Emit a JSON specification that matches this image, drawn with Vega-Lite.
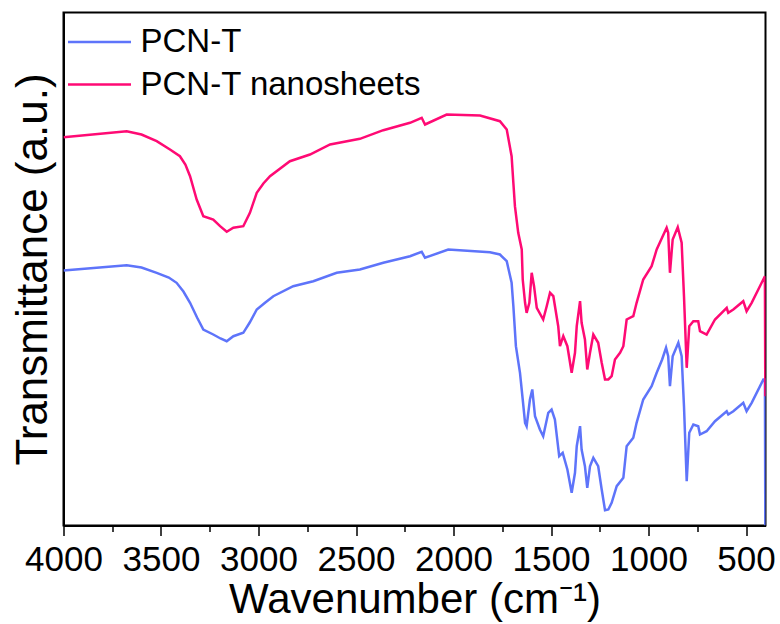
{
  "$schema": "https://vega.github.io/schema/vega-lite/v6.json",
  "width": 702,
  "height": 513,
  "autosize": {"type": "none"},
  "padding": {"left": 63.5, "top": 12.5, "right": 14.5, "bottom": 98.5},
  "config": {
    "font": "Liberation Sans",
    "view": {"stroke": "black", "strokeWidth": 2}
  },
  "data": {
    "values": [
      {"s": "PCN-T", "wn": 4000, "t": 255},
      {"s": "PCN-T", "wn": 3676, "t": 260.3},
      {"s": "PCN-T", "wn": 3600, "t": 258},
      {"s": "PCN-T", "wn": 3522, "t": 252.7},
      {"s": "PCN-T", "wn": 3460, "t": 248},
      {"s": "PCN-T", "wn": 3420, "t": 242.7},
      {"s": "PCN-T", "wn": 3385, "t": 234},
      {"s": "PCN-T", "wn": 3351, "t": 222.7},
      {"s": "PCN-T", "wn": 3315, "t": 208},
      {"s": "PCN-T", "wn": 3283, "t": 196},
      {"s": "PCN-T", "wn": 3232, "t": 191},
      {"s": "PCN-T", "wn": 3195, "t": 187},
      {"s": "PCN-T", "wn": 3163, "t": 184.3},
      {"s": "PCN-T", "wn": 3129, "t": 189.3},
      {"s": "PCN-T", "wn": 3078, "t": 192.7},
      {"s": "PCN-T", "wn": 3045, "t": 203},
      {"s": "PCN-T", "wn": 3009, "t": 216},
      {"s": "PCN-T", "wn": 2965, "t": 223},
      {"s": "PCN-T", "wn": 2924, "t": 229.3},
      {"s": "PCN-T", "wn": 2822, "t": 239.3},
      {"s": "PCN-T", "wn": 2719, "t": 244.3},
      {"s": "PCN-T", "wn": 2599, "t": 252.7},
      {"s": "PCN-T", "wn": 2480, "t": 256},
      {"s": "PCN-T", "wn": 2360, "t": 262.7},
      {"s": "PCN-T", "wn": 2223, "t": 269.3},
      {"s": "PCN-T", "wn": 2163, "t": 273.7},
      {"s": "PCN-T", "wn": 2146, "t": 267.7},
      {"s": "PCN-T", "wn": 2027, "t": 276},
      {"s": "PCN-T", "wn": 1813, "t": 273.3},
      {"s": "PCN-T", "wn": 1762, "t": 271},
      {"s": "PCN-T", "wn": 1727, "t": 264.3},
      {"s": "PCN-T", "wn": 1702, "t": 242.7},
      {"s": "PCN-T", "wn": 1693, "t": 219.3},
      {"s": "PCN-T", "wn": 1680, "t": 179.3},
      {"s": "PCN-T", "wn": 1659, "t": 152.7},
      {"s": "PCN-T", "wn": 1645, "t": 126},
      {"s": "PCN-T", "wn": 1633, "t": 102.7},
      {"s": "PCN-T", "wn": 1625, "t": 99.3},
      {"s": "PCN-T", "wn": 1608, "t": 126},
      {"s": "PCN-T", "wn": 1596, "t": 136},
      {"s": "PCN-T", "wn": 1582, "t": 109.3},
      {"s": "PCN-T", "wn": 1557, "t": 96},
      {"s": "PCN-T", "wn": 1540, "t": 89.3},
      {"s": "PCN-T", "wn": 1514, "t": 112.7},
      {"s": "PCN-T", "wn": 1497, "t": 116},
      {"s": "PCN-T", "wn": 1480, "t": 106},
      {"s": "PCN-T", "wn": 1458, "t": 69.3},
      {"s": "PCN-T", "wn": 1440, "t": 72.7},
      {"s": "PCN-T", "wn": 1416, "t": 56},
      {"s": "PCN-T", "wn": 1394, "t": 32.7},
      {"s": "PCN-T", "wn": 1377, "t": 52.7},
      {"s": "PCN-T", "wn": 1368, "t": 79.3},
      {"s": "PCN-T", "wn": 1351, "t": 99.3},
      {"s": "PCN-T", "wn": 1343, "t": 76},
      {"s": "PCN-T", "wn": 1326, "t": 59.3},
      {"s": "PCN-T", "wn": 1314, "t": 37.7},
      {"s": "PCN-T", "wn": 1300, "t": 59.3},
      {"s": "PCN-T", "wn": 1283, "t": 67.7},
      {"s": "PCN-T", "wn": 1258, "t": 59.3},
      {"s": "PCN-T", "wn": 1240, "t": 36},
      {"s": "PCN-T", "wn": 1223, "t": 15.3},
      {"s": "PCN-T", "wn": 1206, "t": 16},
      {"s": "PCN-T", "wn": 1189, "t": 22.7},
      {"s": "PCN-T", "wn": 1163, "t": 39.3},
      {"s": "PCN-T", "wn": 1129, "t": 47.7},
      {"s": "PCN-T", "wn": 1112, "t": 79.3},
      {"s": "PCN-T", "wn": 1078, "t": 87.7},
      {"s": "PCN-T", "wn": 1061, "t": 102.7},
      {"s": "PCN-T", "wn": 1027, "t": 126},
      {"s": "PCN-T", "wn": 984, "t": 139.3},
      {"s": "PCN-T", "wn": 958, "t": 152.7},
      {"s": "PCN-T", "wn": 930, "t": 166},
      {"s": "PCN-T", "wn": 910, "t": 177.7},
      {"s": "PCN-T", "wn": 899, "t": 169.3},
      {"s": "PCN-T", "wn": 890, "t": 139.3},
      {"s": "PCN-T", "wn": 876, "t": 169.3},
      {"s": "PCN-T", "wn": 847, "t": 182.7},
      {"s": "PCN-T", "wn": 830, "t": 169.3},
      {"s": "PCN-T", "wn": 818, "t": 119.3},
      {"s": "PCN-T", "wn": 804, "t": 44.3},
      {"s": "PCN-T", "wn": 791, "t": 92.7},
      {"s": "PCN-T", "wn": 770, "t": 101},
      {"s": "PCN-T", "wn": 745, "t": 99.3},
      {"s": "PCN-T", "wn": 736, "t": 91},
      {"s": "PCN-T", "wn": 702, "t": 94.3},
      {"s": "PCN-T", "wn": 659, "t": 104.3},
      {"s": "PCN-T", "wn": 599, "t": 114.3},
      {"s": "PCN-T", "wn": 591, "t": 111},
      {"s": "PCN-T", "wn": 565, "t": 114.3},
      {"s": "PCN-T", "wn": 514, "t": 122.7},
      {"s": "PCN-T", "wn": 497, "t": 114.3},
      {"s": "PCN-T", "wn": 471, "t": 122.7},
      {"s": "PCN-T", "wn": 411, "t": 146},
      {"s": "PCN-T", "wn": 403, "t": 146},
      {"s": "PCN-T", "wn": 401, "t": 0},
      {"s": "PCN-T nanosheets", "wn": 4000, "t": 388.3},
      {"s": "PCN-T nanosheets", "wn": 3676, "t": 394.3},
      {"s": "PCN-T nanosheets", "wn": 3600, "t": 391},
      {"s": "PCN-T nanosheets", "wn": 3522, "t": 384.3},
      {"s": "PCN-T nanosheets", "wn": 3454, "t": 376},
      {"s": "PCN-T nanosheets", "wn": 3403, "t": 369.3},
      {"s": "PCN-T nanosheets", "wn": 3375, "t": 361},
      {"s": "PCN-T nanosheets", "wn": 3351, "t": 349.3},
      {"s": "PCN-T nanosheets", "wn": 3317, "t": 326},
      {"s": "PCN-T nanosheets", "wn": 3283, "t": 309.3},
      {"s": "PCN-T nanosheets", "wn": 3232, "t": 306},
      {"s": "PCN-T nanosheets", "wn": 3197, "t": 299.3},
      {"s": "PCN-T nanosheets", "wn": 3163, "t": 293.7},
      {"s": "PCN-T nanosheets", "wn": 3129, "t": 297.7},
      {"s": "PCN-T nanosheets", "wn": 3078, "t": 299.3},
      {"s": "PCN-T nanosheets", "wn": 3044, "t": 312.7},
      {"s": "PCN-T nanosheets", "wn": 3009, "t": 332.7},
      {"s": "PCN-T nanosheets", "wn": 2975, "t": 342},
      {"s": "PCN-T nanosheets", "wn": 2941, "t": 349.3},
      {"s": "PCN-T nanosheets", "wn": 2839, "t": 364.3},
      {"s": "PCN-T nanosheets", "wn": 2736, "t": 371},
      {"s": "PCN-T nanosheets", "wn": 2633, "t": 381},
      {"s": "PCN-T nanosheets", "wn": 2480, "t": 386.7},
      {"s": "PCN-T nanosheets", "wn": 2360, "t": 395.3},
      {"s": "PCN-T nanosheets", "wn": 2223, "t": 402.7},
      {"s": "PCN-T nanosheets", "wn": 2163, "t": 407.7},
      {"s": "PCN-T nanosheets", "wn": 2146, "t": 401},
      {"s": "PCN-T nanosheets", "wn": 2035, "t": 411},
      {"s": "PCN-T nanosheets", "wn": 1864, "t": 410},
      {"s": "PCN-T nanosheets", "wn": 1762, "t": 404.3},
      {"s": "PCN-T nanosheets", "wn": 1727, "t": 396},
      {"s": "PCN-T nanosheets", "wn": 1702, "t": 369.3},
      {"s": "PCN-T nanosheets", "wn": 1693, "t": 342.7},
      {"s": "PCN-T nanosheets", "wn": 1685, "t": 319.3},
      {"s": "PCN-T nanosheets", "wn": 1668, "t": 292.7},
      {"s": "PCN-T nanosheets", "wn": 1650, "t": 276},
      {"s": "PCN-T nanosheets", "wn": 1645, "t": 246},
      {"s": "PCN-T nanosheets", "wn": 1633, "t": 222.7},
      {"s": "PCN-T nanosheets", "wn": 1625, "t": 212.7},
      {"s": "PCN-T nanosheets", "wn": 1611, "t": 222.7},
      {"s": "PCN-T nanosheets", "wn": 1599, "t": 252.7},
      {"s": "PCN-T nanosheets", "wn": 1587, "t": 239.3},
      {"s": "PCN-T nanosheets", "wn": 1573, "t": 217.7},
      {"s": "PCN-T nanosheets", "wn": 1540, "t": 206},
      {"s": "PCN-T nanosheets", "wn": 1522, "t": 219.3},
      {"s": "PCN-T nanosheets", "wn": 1505, "t": 232.7},
      {"s": "PCN-T nanosheets", "wn": 1488, "t": 229.3},
      {"s": "PCN-T nanosheets", "wn": 1463, "t": 199.3},
      {"s": "PCN-T nanosheets", "wn": 1454, "t": 179.3},
      {"s": "PCN-T nanosheets", "wn": 1437, "t": 189.3},
      {"s": "PCN-T nanosheets", "wn": 1416, "t": 179.3},
      {"s": "PCN-T nanosheets", "wn": 1394, "t": 152.7},
      {"s": "PCN-T nanosheets", "wn": 1377, "t": 172.7},
      {"s": "PCN-T nanosheets", "wn": 1368, "t": 199.3},
      {"s": "PCN-T nanosheets", "wn": 1351, "t": 224.3},
      {"s": "PCN-T nanosheets", "wn": 1343, "t": 202.7},
      {"s": "PCN-T nanosheets", "wn": 1326, "t": 186},
      {"s": "PCN-T nanosheets", "wn": 1314, "t": 156},
      {"s": "PCN-T nanosheets", "wn": 1300, "t": 172.7},
      {"s": "PCN-T nanosheets", "wn": 1283, "t": 191},
      {"s": "PCN-T nanosheets", "wn": 1258, "t": 182.7},
      {"s": "PCN-T nanosheets", "wn": 1240, "t": 162.7},
      {"s": "PCN-T nanosheets", "wn": 1223, "t": 146},
      {"s": "PCN-T nanosheets", "wn": 1206, "t": 146},
      {"s": "PCN-T nanosheets", "wn": 1189, "t": 149.3},
      {"s": "PCN-T nanosheets", "wn": 1172, "t": 166},
      {"s": "PCN-T nanosheets", "wn": 1146, "t": 172.7},
      {"s": "PCN-T nanosheets", "wn": 1129, "t": 179.3},
      {"s": "PCN-T nanosheets", "wn": 1112, "t": 206},
      {"s": "PCN-T nanosheets", "wn": 1078, "t": 209.3},
      {"s": "PCN-T nanosheets", "wn": 1061, "t": 222.7},
      {"s": "PCN-T nanosheets", "wn": 1027, "t": 246},
      {"s": "PCN-T nanosheets", "wn": 984, "t": 259.3},
      {"s": "PCN-T nanosheets", "wn": 958, "t": 276},
      {"s": "PCN-T nanosheets", "wn": 930, "t": 288},
      {"s": "PCN-T nanosheets", "wn": 907, "t": 297.7},
      {"s": "PCN-T nanosheets", "wn": 899, "t": 292.7},
      {"s": "PCN-T nanosheets", "wn": 890, "t": 252.7},
      {"s": "PCN-T nanosheets", "wn": 876, "t": 286},
      {"s": "PCN-T nanosheets", "wn": 850, "t": 298.3},
      {"s": "PCN-T nanosheets", "wn": 830, "t": 282.7},
      {"s": "PCN-T nanosheets", "wn": 818, "t": 229.3},
      {"s": "PCN-T nanosheets", "wn": 804, "t": 157.7},
      {"s": "PCN-T nanosheets", "wn": 791, "t": 199.3},
      {"s": "PCN-T nanosheets", "wn": 770, "t": 204.3},
      {"s": "PCN-T nanosheets", "wn": 745, "t": 204.3},
      {"s": "PCN-T nanosheets", "wn": 736, "t": 194.3},
      {"s": "PCN-T nanosheets", "wn": 702, "t": 191},
      {"s": "PCN-T nanosheets", "wn": 659, "t": 206},
      {"s": "PCN-T nanosheets", "wn": 599, "t": 217.7},
      {"s": "PCN-T nanosheets", "wn": 591, "t": 212.7},
      {"s": "PCN-T nanosheets", "wn": 565, "t": 216},
      {"s": "PCN-T nanosheets", "wn": 514, "t": 224.3},
      {"s": "PCN-T nanosheets", "wn": 497, "t": 214.3},
      {"s": "PCN-T nanosheets", "wn": 471, "t": 222.7},
      {"s": "PCN-T nanosheets", "wn": 403, "t": 249.3},
      {"s": "PCN-T nanosheets", "wn": 401, "t": 129.3}
    ]
  },
  "mark": {"type": "line", "strokeWidth": 2.5, "clip": true},
  "encoding": {
    "x": {
      "field": "wn",
      "type": "quantitative",
      "scale": {"domain": [400, 4000], "reverse": true, "nice": false, "zero": false},
      "axis": {
        "values": [4000, 3750, 3500, 3250, 3000, 2750, 2500, 2250, 2000, 1750, 1500, 1250, 1000, 750, 500],
        "format": "d",
        "labelExpr": "datum.value % 500 === 0 ? datum.label : ''",
        "tickSize": {"condition": {"test": "datum.value % 500 === 0", "value": 10}, "value": 6},
        "tickColor": "black",
        "tickWidth": 1.5,
        "domainColor": "black",
        "domainWidth": 2,
        "grid": false,
        "labelFontSize": 35,
        "labelColor": "black",
        "labelPadding": 7,
        "labelFlush": false,
        "labelOverlap": false,
        "title": "Wavenumber (cm⁻¹)",
        "titleFontSize": 42,
        "titleFontWeight": "normal",
        "titleColor": "black",
        "titleBaseline": "alphabetic",
        "titleY": 87
      }
    },
    "y": {
      "field": "t",
      "type": "quantitative",
      "scale": {"domain": [0, 513], "nice": false},
      "axis": {
        "ticks": false,
        "labels": false,
        "grid": false,
        "domainColor": "black",
        "domainWidth": 2,
        "title": "Transmittance (a.u.)",
        "titleFontSize": 44,
        "titleFontWeight": "normal",
        "titleColor": "black",
        "titleAngle": 270,
        "titleAlign": "center",
        "titleBaseline": "alphabetic",
        "titleX": -17,
        "titleY": 256.5
      }
    },
    "color": {
      "field": "s",
      "type": "nominal",
      "scale": {"domain": ["PCN-T", "PCN-T nanosheets"], "range": ["#5E74FA", "#FF0A74"]},
      "legend": {
        "title": null,
        "orient": "none",
        "legendX": 3,
        "legendY": 12,
        "padding": 0,
        "symbolType": "stroke",
        "symbolSize": 3969,
        "symbolStrokeWidth": 2.5,
        "labelFontSize": 33,
        "labelColor": "black",
        "labelOffset": 8,
        "labelLimit": 0,
        "clipHeight": 35,
        "rowPadding": 7.5
      }
    }
  }
}
